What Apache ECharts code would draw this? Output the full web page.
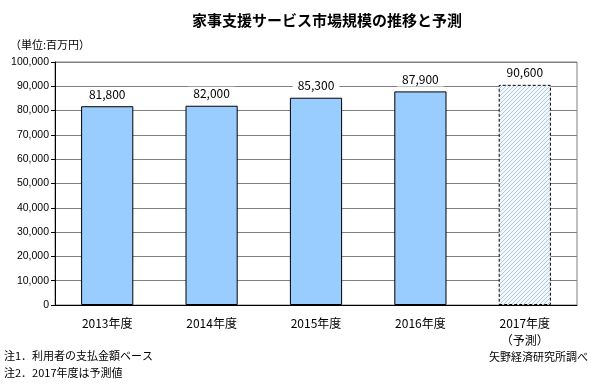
<!DOCTYPE html>
<html><head><meta charset="utf-8">
<script src="https://cdn.jsdelivr.net/npm/echarts@6/dist/echarts.min.js"></script>
<style>html,body{margin:0;padding:0;background:#fff}#c{width:591px;height:385px}</style>
</head><body><div id="c"></div>
<script>
const categories = ['2013年度', '2014年度', '2015年度', '2016年度', '2017年度\n（予測）'];
const values = [81800, 82000, 85300, 87900, 90600];
const forecastIndex = 4;
const yTicks = [0, 10000, 20000, 30000, 40000, 50000, 60000, 70000, 80000, 90000, 100000];

const FJ = '"Noto Sans CJK JP", sans-serif';

function hatch() {
  const c = document.createElement('canvas');
  c.width = 4; c.height = 4;
  const g = c.getContext('2d');
  g.fillStyle = '#f2f7fb'; g.fillRect(0, 0, 4, 4);
  g.strokeStyle = '#a9c5dd'; g.lineWidth = 0.9;
  g.beginPath();
  g.moveTo(-1, 5); g.lineTo(5, -1);
  g.moveTo(-1, 1); g.lineTo(1, -1);
  g.moveTo(3, 5); g.lineTo(5, 3);
  g.stroke();
  return c;
}

const chart = echarts.init(document.getElementById('c'), null, {renderer: 'canvas'});
chart.setOption({
  animation: false,
  title: {
    text: '家事支援サービス市場規模の推移と予測',
    left: 322, textAlign: 'center', top: 8,
    textStyle: {fontFamily: FJ, fontSize: 15, fontWeight: 'bold', color: '#000'}
  },
  graphic: [
    {type: 'text', left: 10, top: 39, style: {text: '（単位:百万円）', font: '11px ' + FJ, fill: '#000'}},
    {type: 'text', left: 4, top: 350, style: {text: '注1．利用者の支払金額ベース', font: '11px ' + FJ, fill: '#000'}},
    {type: 'text', left: 4, top: 367, style: {text: '注2．2017年度は予測値', font: '11px ' + FJ, fill: '#000'}},
    {type: 'text', right: 3, top: 351, style: {text: '矢野経済研究所調べ', font: '11px ' + FJ, fill: '#000'}}
  ],
  grid: {left: 55, right: 14, top: 62, bottom: 80, show: true, borderColor: '#808080', borderWidth: 1, backgroundColor: '#fff'},
  xAxis: {
    type: 'category', data: categories,
    axisLine: {lineStyle: {color: '#000', width: 1}},
    axisTick: {inside: true, length: 4, interval: 0, lineStyle: {color: '#333'}},
    axisLabel: {interval: 0, margin: 10, fontFamily: FJ, fontSize: 12, color: '#000', lineHeight: 17}
  },
  yAxis: {
    type: 'value', min: 0, max: 100000, interval: 10000,
    axisLine: {show: true, lineStyle: {color: '#000', width: 1}},
    axisTick: {show: true, length: 4, lineStyle: {color: '#000'}},
    splitLine: {lineStyle: {color: '#808080', width: 1}},
    axisLabel: {
      margin: 6, fontFamily: '"Liberation Sans", Arial, sans-serif', fontSize: 10.5, color: '#000',
      formatter: v => yTicks.includes(v) ? v.toLocaleString('en-US') : ''
    }
  },
  series: [{
    type: 'bar', barWidth: '50%',
    data: values.map((v, i) => i === forecastIndex ? {
      value: v,
      itemStyle: {color: {image: hatch(), repeat: 'repeat'}, borderColor: '#000', borderWidth: 1, borderType: [3, 2]}
    } : {value: v}),
    itemStyle: {color: '#99ccff', borderColor: '#000', borderWidth: 1},
    label: {
      show: true, position: 'top', distance: 5,
      formatter: p => p.value.toLocaleString('en-US'),
      fontFamily: FJ, fontSize: 12, color: '#000',
      backgroundColor: '#fff', padding: [1, 5]
    }
  }]
});
</script></body></html>
